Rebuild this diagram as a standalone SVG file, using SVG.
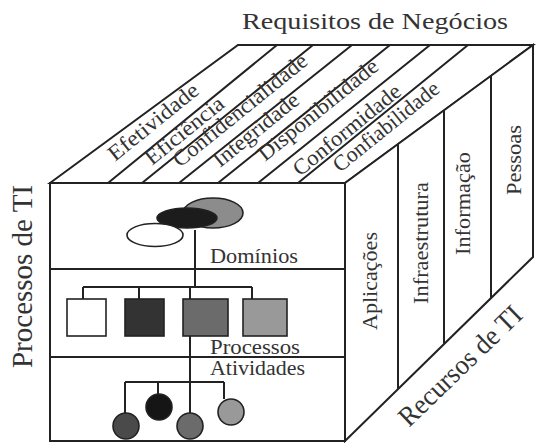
<svg xmlns="http://www.w3.org/2000/svg" width="536" height="443" viewBox="0 0 536 443">
<style>
.ln{stroke:#222;stroke-width:2;fill:none}
.face{stroke:#222;stroke-width:2;fill:#fff}
.t{font-family:"Liberation Serif","Times New Roman",serif;fill:#333}
.sh{stroke:#222;stroke-width:1.6}
</style>
<rect width="536" height="443" fill="#fff"/>
<g id="cube">
<polygon class="face" points="50,183 238,45 533,45 345,183"/>
<polygon class="face" points="345,183 533,45 533,257 345,441"/>
<rect class="face" x="50" y="183" width="295" height="258"/>
</g>
<g id="connectors">
<path class="ln" d="M108,183 L277,45 M142,183 L313,45 M179,183 L352,45 M218,183 L390,45 M258,183 L430,45 M298,183 L468,45"/>
<path class="ln" d="M398,144 V389 M444,110 V344 M491,76 V298"/>
<path class="ln" d="M50,269 H345 M50,357 H345"/>
<path class="ln" d="M195,230 V287 M83,287 H252 M83,287 V299 M139,287 V299 M190,287 V299 M252,287 V299"/>
<path class="ln" d="M190,336 V413 M125,382 H224 M125,382 V413 M158,382 V394 M224,382 V399"/>
</g>
<g id="title"><text class="t" x="242" y="29" font-size="24" textLength="266" lengthAdjust="spacingAndGlyphs">Requisitos de Negócios</text></g>
<g id="requisitos" class="t" font-size="22">
<text transform="translate(115,162) rotate(-39)" textLength="110" lengthAdjust="spacingAndGlyphs">Efetividade</text>
<text transform="translate(152,166) rotate(-39)" textLength="95" lengthAdjust="spacingAndGlyphs">Eficiência</text>
<text transform="translate(180,168) rotate(-39)" textLength="166" lengthAdjust="spacingAndGlyphs">Confidencialidade</text>
<text transform="translate(220,168) rotate(-39)" textLength="104" lengthAdjust="spacingAndGlyphs">Integridade</text>
<text transform="translate(265,162) rotate(-39)" textLength="148" lengthAdjust="spacingAndGlyphs">Disponibilidade</text>
<text transform="translate(300,177) rotate(-39)" textLength="132" lengthAdjust="spacingAndGlyphs">Conformidade</text>
<text transform="translate(340,173) rotate(-39)" textLength="130" lengthAdjust="spacingAndGlyphs">Confiabilidade</text>
</g>
<g id="processos-ti"><text class="t" transform="translate(32,368) rotate(-90)" font-size="29" textLength="183" lengthAdjust="spacingAndGlyphs">Processos de TI</text></g>
<g id="recursos" class="t" font-size="22">
<text transform="translate(377,330) rotate(-90)" textLength="98" lengthAdjust="spacingAndGlyphs">Aplicações</text>
<text transform="translate(428,304) rotate(-90)" textLength="122" lengthAdjust="spacingAndGlyphs">Infraestrutura</text>
<text transform="translate(470,255) rotate(-90)" textLength="103" lengthAdjust="spacingAndGlyphs">Informação</text>
<text transform="translate(521,195) rotate(-90)" textLength="70" lengthAdjust="spacingAndGlyphs">Pessoas</text>
</g>
<g id="recursos-ti"><text class="t" transform="translate(409,428) rotate(-44)" font-size="28" textLength="160" lengthAdjust="spacingAndGlyphs">Recursos de TI</text></g>
<g id="dominios">
<ellipse class="sh" cx="213" cy="213" rx="30" ry="15" fill="#8c8c8c"/>
<ellipse class="sh" cx="187" cy="218" rx="30" ry="10" fill="#1c1c1c"/>
<ellipse class="sh" cx="155" cy="235" rx="28" ry="11.5" fill="#fff"/>
<text class="t" x="210" y="263" font-size="20" textLength="88" lengthAdjust="spacingAndGlyphs">Domínios</text>
</g>
<g id="processos">
<rect class="sh" x="67" y="299" width="39" height="37" fill="#fff"/>
<rect class="sh" x="125" y="299" width="39" height="37" fill="#333"/>
<rect class="sh" x="183" y="299" width="45" height="37" fill="#6b6b6b"/>
<rect class="sh" x="243" y="299" width="44" height="37" fill="#999"/>
<text class="t" x="210" y="354" font-size="20" textLength="90" lengthAdjust="spacingAndGlyphs">Processos</text>
</g>
<g id="atividades">
<circle class="sh" cx="126" cy="426" r="13" fill="#4a4a4a"/>
<circle class="sh" cx="159" cy="407" r="13" fill="#151515"/>
<circle class="sh" cx="190" cy="426" r="13" fill="#6b6b6b"/>
<circle class="sh" cx="231" cy="412" r="13" fill="#999"/>
<text class="t" x="210" y="375" font-size="20" textLength="95" lengthAdjust="spacingAndGlyphs">Atividades</text>
</g>
</svg>
